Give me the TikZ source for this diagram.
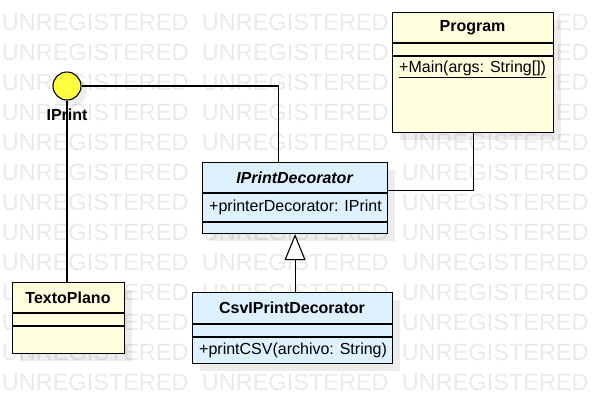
\documentclass[tikz,border=0pt]{standalone}
\usepackage{fontspec}
\setmainfont{Liberation Sans}
\usetikzlibrary{arrows.meta}

\definecolor{classyellow}{HTML}{FFFFDD}
\definecolor{classblue}{HTML}{DDF1FF}
\definecolor{ifaceyellow}{HTML}{FFFF40}
\definecolor{markgray}{HTML}{EAEAEA}

\begin{document}
\begin{tikzpicture}[x=1pt,y=-1pt,
  classbox/.style={draw, line width=1.1pt, inner sep=0, anchor=north west},
  classname/.style={font=\fontsize{16}{19}\selectfont\bfseries, inner sep=0},
  member/.style={font=\fontsize{16}{19}\selectfont, anchor=west, inner sep=0},
  watermark/.style={font=\fontsize{23.5}{28}\selectfont, text=markgray, anchor=west, inner sep=0},
  shadowbox/.style={fill=black, opacity=0.07},
  link/.style={line width=1.1pt}]

\useasboundingbox (0,0) rectangle (602,413);

% watermark
\foreach \r in {0,...,12}
  \foreach \c in {0,...,3}
    \node [watermark] at (1.7+200*\c,22+30*\r) {UNREGISTERED};

% shadows
\fill [shadowbox] (400,20) rectangle (561,140);
\fill [shadowbox] (210,170) rectangle (395,241);
\fill [shadowbox] (200,300) rectangle (400,371);
\fill [shadowbox] (20,290) rectangle (132,361);
\fill [shadowbox] (73,92) circle [radius=14];

% boxes
\node (program) [classbox, fill=classyellow, minimum width=161pt, minimum height=120pt] at (392,12) {};
\draw [line width=1.1pt] (392,43) -- (553,43) (392,56) -- (553,56);

\node (decorator) [classbox, fill=classblue, minimum width=185pt, minimum height=71pt] at (202,162) {};
\draw [line width=1.1pt] (202,193) -- (387,193) (202,222) -- (387,222);

\node (csv) [classbox, fill=classblue, minimum width=200pt, minimum height=71pt] at (192,292) {};
\draw [line width=1.1pt] (192,324) -- (392,324) (192,337) -- (392,337);

\node (texto) [classbox, fill=classyellow, minimum width=112pt, minimum height=71pt] at (12,282) {};
\draw [line width=1.1pt] (12,313) -- (124,313) (12,326) -- (124,326);

\node (iprint) [circle, draw, line width=1.1pt, fill=ifaceyellow, minimum size=28pt, inner sep=0] at (67,86) {};

% connectors
\draw [link] (iprint.south) -- (iprint.south |- texto.north);
\draw [link] (iprint.east) -| ([xshift=-16.5pt]decorator.north);
\draw [link] (program.south) |- ([yshift=7.5pt]decorator.east);
\draw [link, -{Triangle[fill=white, length=26pt, width=21pt]}] (decorator.south |- csv.north) -- (decorator.south);

% texts
\node (iprintname) [classname] at (67,115) {IPrint};
\node (programname) [classname] at (472.5,27.5) {Program};
\node (mainop) [member] at (399,69) {\underline{+Main(args: String[])}};
\node (decoratorname) [classname] at (294.5,177.5) {\itshape IPrintDecorator};
\node (printerattr) [member] at (209,207) {+printerDecorator: IPrint};
\node (csvname) [classname] at (292,308) {CsvIPrintDecorator};
\node (csvop) [member] at (199,350) {+printCSV(archivo: String)};
\node (textoname) [classname] at (68,297.5) {TextoPlano};
\end{tikzpicture}
\end{document}
